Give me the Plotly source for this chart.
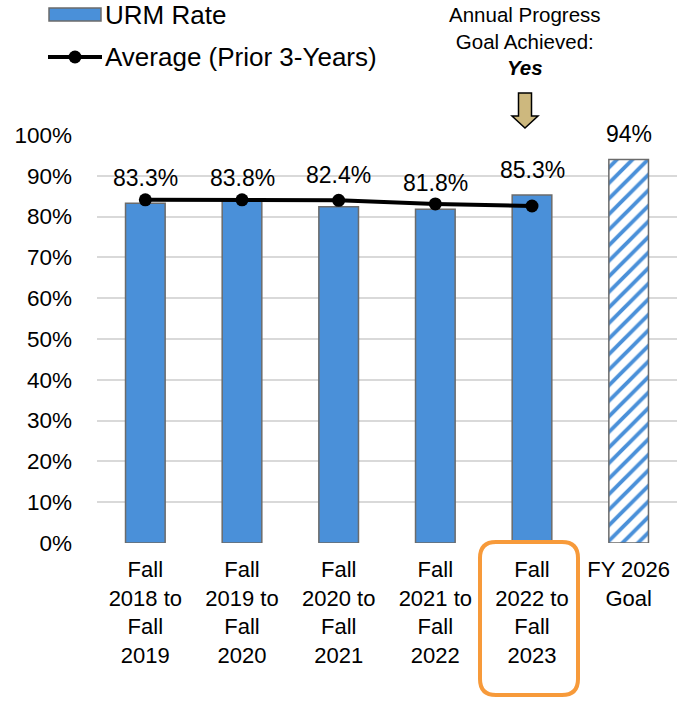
import plotly.graph_objects as go

categories = ["Fall<br>2018 to<br>Fall<br>2019", "Fall<br>2019 to<br>Fall<br>2020",
              "Fall<br>2020 to<br>Fall<br>2021", "Fall<br>2021 to<br>Fall<br>2022",
              "Fall<br>2022 to<br>Fall<br>2023", "FY 2026<br>Goal"]
urm_rate = [0.833, 0.838, 0.824, 0.818, 0.853]
goal_value = [0.94]
avg_prior3 = [0.841, 0.841, 0.840, 0.831, 0.826]
urm_labels = ["83.3%", "83.8%", "82.4%", "81.8%", "85.3%"]
goal_labels = ["94%"]
y_ticks = [0, 0.1, 0.2, 0.3, 0.4, 0.5, 0.6, 0.7, 0.8, 0.9, 1.0]
y_ticklabels = ["0%", "10%", "20%", "30%", "40%", "50%", "60%", "70%", "80%", "90%", "100%"]
legend_names = ["URM Rate", "Average (Prior 3-Years)"]

FONT = "Liberation Sans, Arial, sans-serif"
BLUE = "#4A90D9"
EDGE = "#6B6B6B"

W, H = 686, 702
L, R, T, B = 97, 9, 135, 159
PW, PH = W - L - R, H - T - B

def px(x):
    return (x - L) / PW

def py(y):
    return (H - B - y) / PH

def P(a, b):
    return f"{px(a):.5f},{py(b):.5f}"

x_idx = list(range(len(categories)))

fig = go.Figure()
fig.add_trace(go.Bar(
    x=x_idx[:5], y=urm_rate, name=legend_names[0], width=0.41, showlegend=False,
    marker=dict(color=BLUE, line=dict(color=EDGE, width=1.5)),
))
fig.add_trace(go.Bar(
    x=x_idx[5:], y=goal_value, name="Goal", width=0.41, showlegend=False,
    marker=dict(color="white", line=dict(color=EDGE, width=1.5),
                pattern=dict(shape="/", fgcolor=BLUE, bgcolor="white", fgopacity=1,
                             size=11, solidity=0.35, fillmode="replace")),
))
fig.add_trace(go.Scatter(
    x=x_idx[:5], y=avg_prior3, name=legend_names[1], mode="lines+markers", showlegend=False,
    line=dict(color="black", width=4), marker=dict(color="black", size=13),
))

label_offsets = [25, 23, 32, 26, 25]
for i, (v, t) in enumerate(zip(urm_rate, urm_labels)):
    fig.add_annotation(x=i, y=v, text=t, showarrow=False, yanchor="middle",
                       yshift=label_offsets[i], font=dict(size=23, color="black", family=FONT))
for v, t in zip(goal_value, goal_labels):
    fig.add_annotation(x=5, y=v, text=t, showarrow=False, yanchor="middle",
                       yshift=25, font=dict(size=23, color="black", family=FONT))

fig.add_annotation(xref="paper", yref="paper", x=px(525), y=py(1), xanchor="center", yanchor="top",
                   text="Annual Progress<br>Goal Achieved:<br><b><i>Yes</i></b>", showarrow=False,
                   font=dict(size=20.5, color="black", family=FONT))

# block arrow
ax = 525
arrow_pts = [(ax - 6.5, 93), (ax + 6.5, 93), (ax + 6.5, 116), (ax + 13, 116), (ax, 128),
             (ax - 13, 116), (ax - 6.5, 116)]
path = "M " + " L ".join(P(a, b) for a, b in arrow_pts) + " Z"
fig.add_shape(type="path", xref="paper", yref="paper", path=path,
              fillcolor="#CDB87E", line=dict(color="black", width=1.5))

# orange rounded box
x0, x1, y0, y1, r = 480, 578, 542, 695, 16
rp = (f"M {P(x0 + r, y0)} L {P(x1 - r, y0)} Q {P(x1, y0)} {P(x1, y0 + r)} "
      f"L {P(x1, y1 - r)} Q {P(x1, y1)} {P(x1 - r, y1)} L {P(x0 + r, y1)} "
      f"Q {P(x0, y1)} {P(x0, y1 - r)} L {P(x0, y0 + r)} Q {P(x0, y0)} {P(x0 + r, y0)} Z")
fig.add_shape(type="path", xref="paper", yref="paper", path=rp,
              line=dict(color="#F79A3A", width=4))

# custom legend
fig.add_shape(type="rect", xref="paper", yref="paper", x0=px(49), x1=px(101), y0=py(21), y1=py(8),
              fillcolor=BLUE, line=dict(color=EDGE, width=1.5))
fig.add_shape(type="line", xref="paper", yref="paper", x0=px(48), x1=px(102), y0=py(57), y1=py(57),
              line=dict(color="black", width=4))
fig.add_shape(type="circle", xref="paper", yref="paper", x0=px(68.5), x1=px(81.5), y0=py(63.5), y1=py(50.5),
              fillcolor="black", line=dict(color="black", width=0))
fig.add_annotation(xref="paper", yref="paper", x=px(103), y=py(15), xanchor="left", yanchor="middle",
                   text=legend_names[0], showarrow=False, font=dict(size=26, color="black", family=FONT))
fig.add_annotation(xref="paper", yref="paper", x=px(103), y=py(57), xanchor="left", yanchor="middle",
                   text=legend_names[1], showarrow=False, font=dict(size=26, color="black", family=FONT))

fig.update_layout(
    width=W, height=H, margin=dict(l=L, r=R, t=T, b=B, autoexpand=False),
    paper_bgcolor="white", plot_bgcolor="white",
    barmode="overlay", showlegend=False,
    font=dict(family=FONT, size=22, color="black"),
)
fig.update_xaxes(range=[-0.5, 5.5], tickvals=x_idx, ticktext=categories, showgrid=False,
                 showline=False, zeroline=False, ticks="", automargin=False,
                 ticklabelstandoff=11, tickfont=dict(size=22, family=FONT))
fig.update_yaxes(range=[0, 1], tickvals=y_ticks, ticktext=y_ticklabels, showgrid=True,
                 gridcolor="#D9D9D9", gridwidth=1.5, zeroline=False, showline=False, automargin=False,
                 ticks="", ticklabelstandoff=24, tickfont=dict(size=22.5, family=FONT))

fig.write_html("out.html", config={"displayModeBar": False},
               post_script="document.body.style.margin='0';document.body.style.overflow='hidden';")
